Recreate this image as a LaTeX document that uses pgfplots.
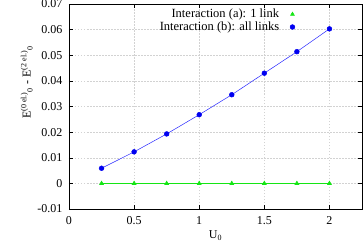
\documentclass[border=0pt]{standalone}
\usepackage{pgfplots}
\pgfplotsset{compat=1.18}
\usepackage{fontspec}
\setmainfont{Liberation Serif}
\begin{document}
\begin{tikzpicture}
\begin{axis}[
  at={(0pt,0pt)}, anchor=south west,
  scale only axis, width=293pt, height=205pt,
  xmin=0, xmax=2.25, ymin=-0.01, ymax=0.07,
  xtick={0,0.5,1,1.5,2}, ytick={-0.01,0,0.01,0.02,0.03,0.04,0.05,0.06,0.07},
  /pgf/number format/assume math mode=true,
  yticklabel style={/pgf/number format/fixed,/pgf/number format/precision=2},
  scaled y ticks=false,
  tick align=inside, major tick length=4pt,
  tick style={black, line width=0.4pt},
  grid=major, grid style={dash pattern=on 1.5pt off 1.5pt, gray!35, line width=0.3pt},
  axis line style={black, line width=0.8pt},
  ticklabel style={font=\fontsize{12}{13}\selectfont},
  xticklabel style={yshift=-4pt},
  yticklabel style={xshift=-3pt},
  xlabel={U\textsubscript{0}},
  ylabel={E\textsuperscript{(0 el.)}\textsubscript{0} - E\textsuperscript{(2 el.)}\textsubscript{0}},
  label style={font=\fontsize{12}{13}\selectfont},
  xlabel style={yshift=1pt},
  ylabel style={yshift=-2pt, xshift=24pt},
  legend style={at={(0.775,0.99)}, anchor=north east, draw=none, fill=none,
    font=\fontsize{12.5}{13}\selectfont, row sep=-1.5pt, inner sep=1pt},
  legend cell align=right,
  legend plot pos=right,
  legend image code/.code={\path (0pt,0pt); \draw[#1, only marks] plot coordinates {(11pt,0pt)};},
]
\addplot[color={rgb,255:red,20;green,230;blue,20}, line width=0.6pt, mark=triangle*, mark size=2.2pt, mark options={solid}]
coordinates {(0.25,0) (0.5,0) (0.75,0) (1.0,0) (1.25,0) (1.5,0) (1.75,0) (2.0,0)};
\addlegendentry{Interaction (a): 1 link}
\addplot[color={rgb,255:red,40;green,40;blue,255}, line width=0.5pt, mark=*, mark size=2.4pt, mark options={solid, fill={rgb,255:red,0;green,0;blue,240}, draw={rgb,255:red,0;green,0;blue,240}}]
coordinates {(0.25,0.0059) (0.5,0.0123) (0.75,0.0193) (1.0,0.0268) (1.25,0.0346) (1.5,0.0430) (1.75,0.0514) (2.0,0.0603)};
\addlegendentry{Interaction (b): all links}
\end{axis}
\pgfresetboundingbox
\path (-69pt,-40pt) rectangle (294pt,209pt);
\end{tikzpicture}
\end{document}
